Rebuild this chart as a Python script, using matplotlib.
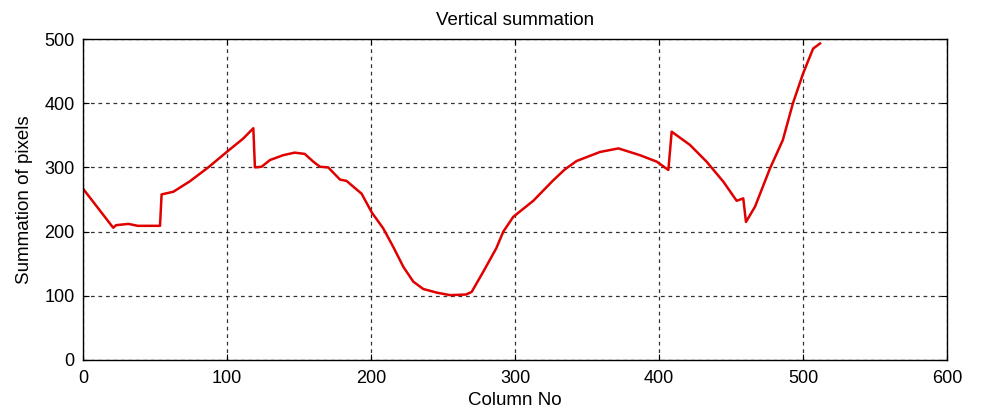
import numpy as np
import matplotlib
matplotlib.use('Agg')
import matplotlib.pyplot as plt

# column number vs summed pixel values
col = [0, 21, 23, 31.5, 38, 53.5, 54.6, 62.7, 74, 87, 99.8, 111.3, 118.3,
       119.4, 124, 129.9, 139, 147, 154, 159.9, 164.6, 170.3, 178.5, 183,
       193.5, 200.5, 208.5, 215.5, 222.5, 229.4, 236.3, 245.6, 254.9, 266,
       269.9, 278, 287, 291.9, 298.8, 312.7, 326.6, 334.7, 342.8, 359, 371.8,
       386.8, 398.4, 406.5, 408.8, 421.5, 433, 444.7, 453.9, 458.5, 460.4,
       466.7, 477, 486, 493, 500, 507, 511.8]
pix_sum = [267, 206, 210, 212, 209, 209, 258, 262, 278, 300, 324, 345, 361,
           300, 301, 311.5, 319, 323, 321, 309, 301, 300, 281, 279,
           259, 230, 205, 176, 145, 122, 110.6, 105, 101, 102,
           106, 137.6, 174, 200, 223, 248, 280, 297, 310, 324, 329.6,
           319, 309, 296, 355.6, 335, 309, 277.7, 248, 251.7, 215,
           239, 298, 342.7, 400, 446, 485, 493]

xticks = [0, 100, 200, 300, 400, 500, 600]
yticks = [0, 100, 200, 300, 400, 500]

plt.rcParams['font.family'] = ['Liberation Sans', 'DejaVu Sans']

fig = plt.figure(figsize=(9.83, 4.11), dpi=100)
ax = fig.add_axes([0.0844, 0.1241, 0.879, 0.7810])
ax.plot(col, pix_sum, color='#e00000', linewidth=1.8)

ax.set_xlim(0, 600)
ax.set_ylim(0, 500)
ax.set_xticks(xticks)
ax.set_yticks(yticks)
ax.tick_params(direction='in', length=4, labelsize=13, top=True, right=True)
ax.tick_params(axis='y', pad=6)
ax.tick_params(axis='x', pad=7)
ax.grid(True, color='black', linestyle=(0, (3, 3)), linewidth=0.9, alpha=0.8)
for s in ax.spines.values():
    s.set_color('black')
    s.set_linewidth(1.0)

ax.set_title('Vertical summation', fontsize=13.5, pad=10)
ax.set_xlabel('Column No', fontsize=13.5, labelpad=4)
ax.set_ylabel('Summation of pixels', fontsize=13.5, labelpad=8)

fig.savefig('out.png', dpi=100)
